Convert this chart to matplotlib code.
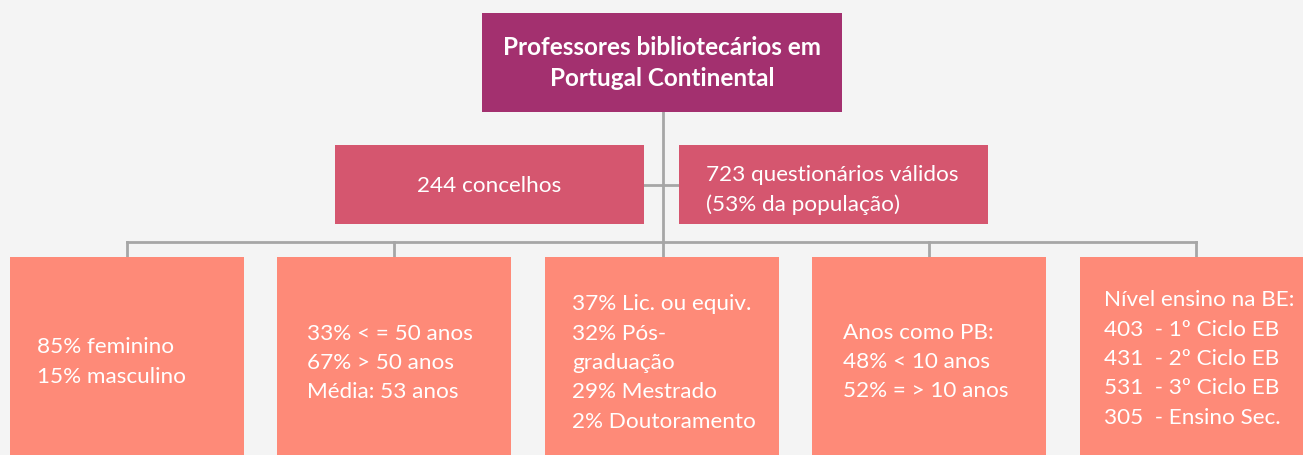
import matplotlib.pyplot as plt
from matplotlib.patches import Rectangle

# node texts, top to bottom
top_text = "Professores bibliotecários em\nPortugal Continental"
mid_texts = ["244 concelhos", "723 questionários válidos\n(53% da população)"]
bottom_texts = [
    "85% feminino\n15% masculino",
    "33% < = 50 anos\n67% > 50 anos\nMédia: 53 anos",
    "37% Lic. ou equiv.\n32% Pós-\ngraduação\n29% Mestrado\n2% Doutoramento",
    "Anos como PB:\n48% < 10 anos\n52% = > 10 anos",
    "Nível ensino na BE:\n403  - 1º Ciclo EB\n431  - 2º Ciclo EB\n531  - 3º Ciclo EB\n305  - Ensino Sec.",
]

bg = "#f4f4f4"
c_top = "#a3306f"
c_mid = "#d5566f"
c_bot = "#fe8a78"
c_line = "#a6a6a6"
font = "Lato"

W, H = 1303, 456
fig = plt.figure(figsize=(W / 100, H / 100), dpi=100, facecolor=bg)
ax = fig.add_axes([0, 0, 1, 1])
ax.set_xlim(0, W)
ax.set_ylim(H, 0)
ax.axis("off")

def box(x0, y0, x1, y1, color):
    ax.add_patch(Rectangle((x0, y0), x1 - x0, y1 - y0, facecolor=color,
                           edgecolor="none", zorder=2))

# connectors
lw = 2
ax.plot([663, 663], [113, 243], color=c_line, lw=lw, zorder=1)
ax.plot([644, 679], [186, 186], color=c_line, lw=lw, zorder=1)
drops = [127, 394, 663, 929, 1196]
ax.plot([drops[0], drops[-1]], [243, 243], color=c_line, lw=lw, zorder=1)
for d in drops:
    ax.plot([d, d], [243, 258], color=c_line, lw=lw, zorder=1)

# top node
box(482, 14, 842, 113, c_top)
ax.text(662, 63, top_text, ha="center", va="center", color="white",
        fontsize=17.5, fontweight="bold", family=font, linespacing=1.42,
        zorder=3)

# middle row
box(335, 146, 644, 225, c_mid)
box(679, 146, 988, 225, c_mid)
ax.text(489, 186, mid_texts[0], ha="center", va="center", color="white",
        fontsize=16.2, family=font, zorder=3)
ax.text(706, 190, mid_texts[1], ha="left", va="center", color="white",
        fontsize=16.2, family=font, linespacing=1.6, zorder=3)

# bottom row
lefts = [10, 277, 545, 812, 1080]
text_x = [37, 307, 572, 843, 1104]
text_y = [362, 363, 363, 362, 359]
for i in range(len(bottom_texts)):
    box(lefts[i], 258, lefts[i] + 234, 470, c_bot)
    ax.text(text_x[i], text_y[i], bottom_texts[i], ha="left", va="center",
            color="white", fontsize=16.2, family=font, linespacing=1.59,
            zorder=3)

fig.savefig("out.png", dpi=100, facecolor=bg)
